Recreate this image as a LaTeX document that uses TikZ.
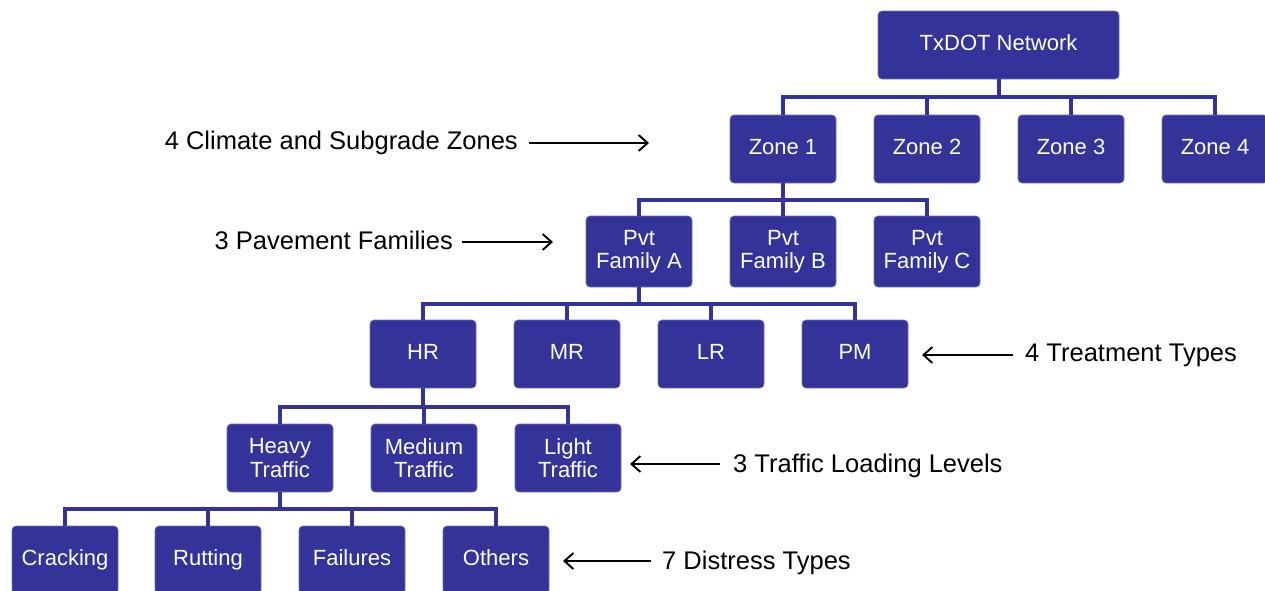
\documentclass[tikz,border=0pt]{standalone}
\usepackage{fontspec}
\setmainfont{Liberation Sans}
\usetikzlibrary{arrows.meta}
\definecolor{boxblue}{RGB}{51,51,153}
\tikzset{
  basebox/.style={rectangle, rounded corners=4pt, fill=boxblue, draw=boxblue!70!white, line width=0.6pt,
    minimum width=106pt, minimum height=68pt, inner sep=0pt, text=white, align=center,
    font=\fontsize{22}{23.3}\selectfont},
  box/.style={basebox, text height=16pt, text depth=4.5pt},
  twobox/.style={basebox},
  tallbox/.style={basebox, minimum height=71pt},
  widebox/.style={box, minimum width=241pt},
  conn/.style={draw=boxblue, line width=4pt},
  lab/.style={inner sep=0pt, font=\fontsize{25.5}{28}\selectfont},
  arr/.style={draw=black, line width=1.9pt, -{Straight Barb[length=9pt,width=16pt,line width=1.9pt]}}
}
\begin{document}
\begin{tikzpicture}[x=1pt,y=-1pt]
\useasboundingbox (0,0) rectangle (1265,590);
\clip (0,0) rectangle (1265,590);
% nodes
\node[widebox] (net) at (998.5,45) {TxDOT Network};
\node[box] (z1) at (783,149) {Zone 1};
\node[box] (z2) at (927,149) {Zone 2};
\node[box] (z3) at (1071,149) {Zone 3};
\node[box] (z4) at (1215,149) {Zone 4};
\node[tallbox] (pa) at (639,251.5) {Pvt\\Family A};
\node[tallbox] (pb) at (783,251.5) {Pvt\\Family B};
\node[tallbox] (pc) at (927,251.5) {Pvt\\Family C};
\node[box] (hr) at (423,354) {HR};
\node[box] (mr) at (567,354) {MR};
\node[box] (lr) at (711,354) {LR};
\node[box] (pm) at (855,354) {PM};
\node[twobox] (ht) at (280,458) {Heavy\\Traffic};
\node[twobox] (mt) at (424,458) {Medium\\Traffic};
\node[twobox] (lt) at (568,458) {Light\\Traffic};
\node[box] (cr) at (65,560) {Cracking};
\node[box] (ru) at (208,560) {Rutting};
\node[box] (fa) at (352,560) {Failures};
\node[box] (ot) at (496,560) {Others};
% bus coordinates
\coordinate (b1) at (0,97);
\coordinate (b2) at (0,200);
\coordinate (b3) at (0,304);
\coordinate (b4) at (0,407);
\coordinate (b5) at (0,509);
% connectors
\draw[conn] (net.south) -- (net.south |- b1);
\draw[conn] (z1.north) -- (z1.north |- b1) -- (z4.north |- b1) -- (z4.north);
\draw[conn] (z2.north) -- (z2.north |- b1);
\draw[conn] (z3.north) -- (z3.north |- b1);
\draw[conn] (z1.south) -- (z1.south |- b2);
\draw[conn] (pa.north) -- (pa.north |- b2) -- (pc.north |- b2) -- (pc.north);
\draw[conn] (pb.north) -- (pb.north |- b2);
\draw[conn] (pa.south) -- (pa.south |- b3);
\draw[conn] (hr.north) -- (hr.north |- b3) -- (pm.north |- b3) -- (pm.north);
\draw[conn] (mr.north) -- (mr.north |- b3);
\draw[conn] (lr.north) -- (lr.north |- b3);
\draw[conn] (hr.south) -- (hr.south |- b4);
\draw[conn] (ht.north) -- (ht.north |- b4) -- (lt.north |- b4) -- (lt.north);
\draw[conn] (mt.north) -- (mt.north |- b4);
\draw[conn] (ht.south) -- (ht.south |- b5);
\draw[conn] (cr.north) -- (cr.north |- b5) -- (ot.north |- b5) -- (ot.north);
\draw[conn] (ru.north) -- (ru.north |- b5);
\draw[conn] (fa.north) -- (fa.north |- b5);
% labels
\node[lab, anchor=base east] (l1) at (518,149) {4 Climate and Subgrade Zones};
\node[lab, anchor=base east] (l2) at (453,249) {3 Pavement Families};
\node[lab, anchor=base west] (l3) at (1025,361) {4 Treatment Types};
\node[lab, anchor=base west] (l4) at (733,472) {3 Traffic Loading Levels};
\node[lab, anchor=base west] (l5) at (662,569) {7 Distress Types};
% arrow ends
\coordinate (a1s) at (529,143);  \coordinate (a1e) at (649,143);
\coordinate (a2s) at (462,242);  \coordinate (a2e) at (553,242);
\coordinate (a3s) at (1013,355); \coordinate (a3e) at (922,355);
\coordinate (a4s) at (720,464);  \coordinate (a4e) at (630,464);
\coordinate (a5s) at (651,561);  \coordinate (a5e) at (563,561);
\draw[arr] (a1s) -- (a1e);
\draw[arr] (a2s) -- (a2e);
\draw[arr] (a3s) -- (a3e);
\draw[arr] (a4s) -- (a4e);
\draw[arr] (a5s) -- (a5e);
\end{tikzpicture}
\end{document}
